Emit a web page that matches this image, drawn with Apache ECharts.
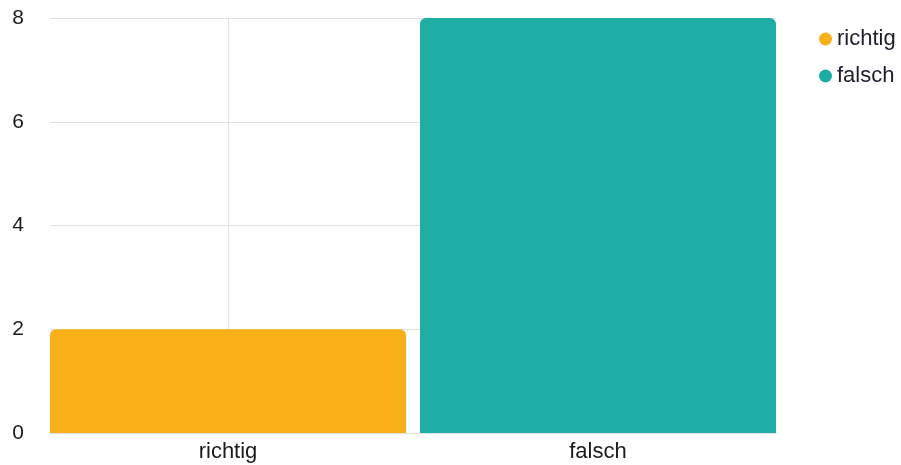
<!DOCTYPE html>
<html>
<head>
<meta charset="utf-8">
<script src="https://cdn.jsdelivr.net/npm/echarts@6/dist/echarts.min.js"></script>
<style>
  html, body { margin: 0; padding: 0; background: #ffffff; }
  #chart { width: 901px; height: 465px; }
</style>
</head>
<body>
<div id="chart"></div>
<script>
// Answer categories and counts
const categories = ['richtig', 'falsch'];
const counts = [2, 8];
const colors = ['#F9AF17', '#1EADA5'];
const yTicks = [0, 2, 4, 6, 8];

const chart = echarts.init(document.getElementById('chart'), null, { renderer: 'canvas' });

// Each answer is its own series so it gets a legend entry; positions are category indices on the x axis
const series = categories.map((name, i) => ({
  name: name,
  type: 'bar',
  data: [[i, counts[i]]],
  barWidth: 356,
  barGap: '-100%',
  itemStyle: { color: colors[i], borderRadius: [6, 6, 0, 0] },
  emphasis: { disabled: true }
}));

chart.setOption({
  animation: false,
  color: colors,
  textStyle: { fontFamily: 'Liberation Sans, Arial, sans-serif' },
  grid: { left: 50, right: 125, top: 18, bottom: 32, containLabel: false },
  legend: {
    orient: 'vertical',
    left: 814,
    top: 23,
    icon: 'circle',
    itemWidth: 13,
    itemHeight: 13,
    itemGap: 15,
    textStyle: { fontSize: 22, color: '#1c1c2e', fontFamily: 'Liberation Sans, Arial, sans-serif' },
    data: categories
  },
  xAxis: {
    type: 'value',
    min: -0.4811,
    max: 1.4811,
    axisLine: { show: false },
    axisTick: { show: false, customValues: categories.map((c, i) => i) },
    axisLabel: {
      customValues: categories.map((c, i) => i),
      formatter: v => categories[Math.round(v)] || '',
      fontSize: 22,
      color: '#1a1a1a',
      margin: 8
    },
    splitLine: { show: true, lineStyle: { color: '#e0e0e0', width: 1 } }
  },
  yAxis: {
    type: 'value',
    min: yTicks[0],
    max: yTicks[yTicks.length - 1],
    interval: 2,
    axisLine: { show: false },
    axisTick: { show: false },
    axisLabel: { fontSize: 21, color: '#1a1a1a', margin: 26 },
    splitLine: { show: true, lineStyle: { color: '#e0e0e0', width: 1 } }
  },
  series: series
});
</script>
</body>
</html>
